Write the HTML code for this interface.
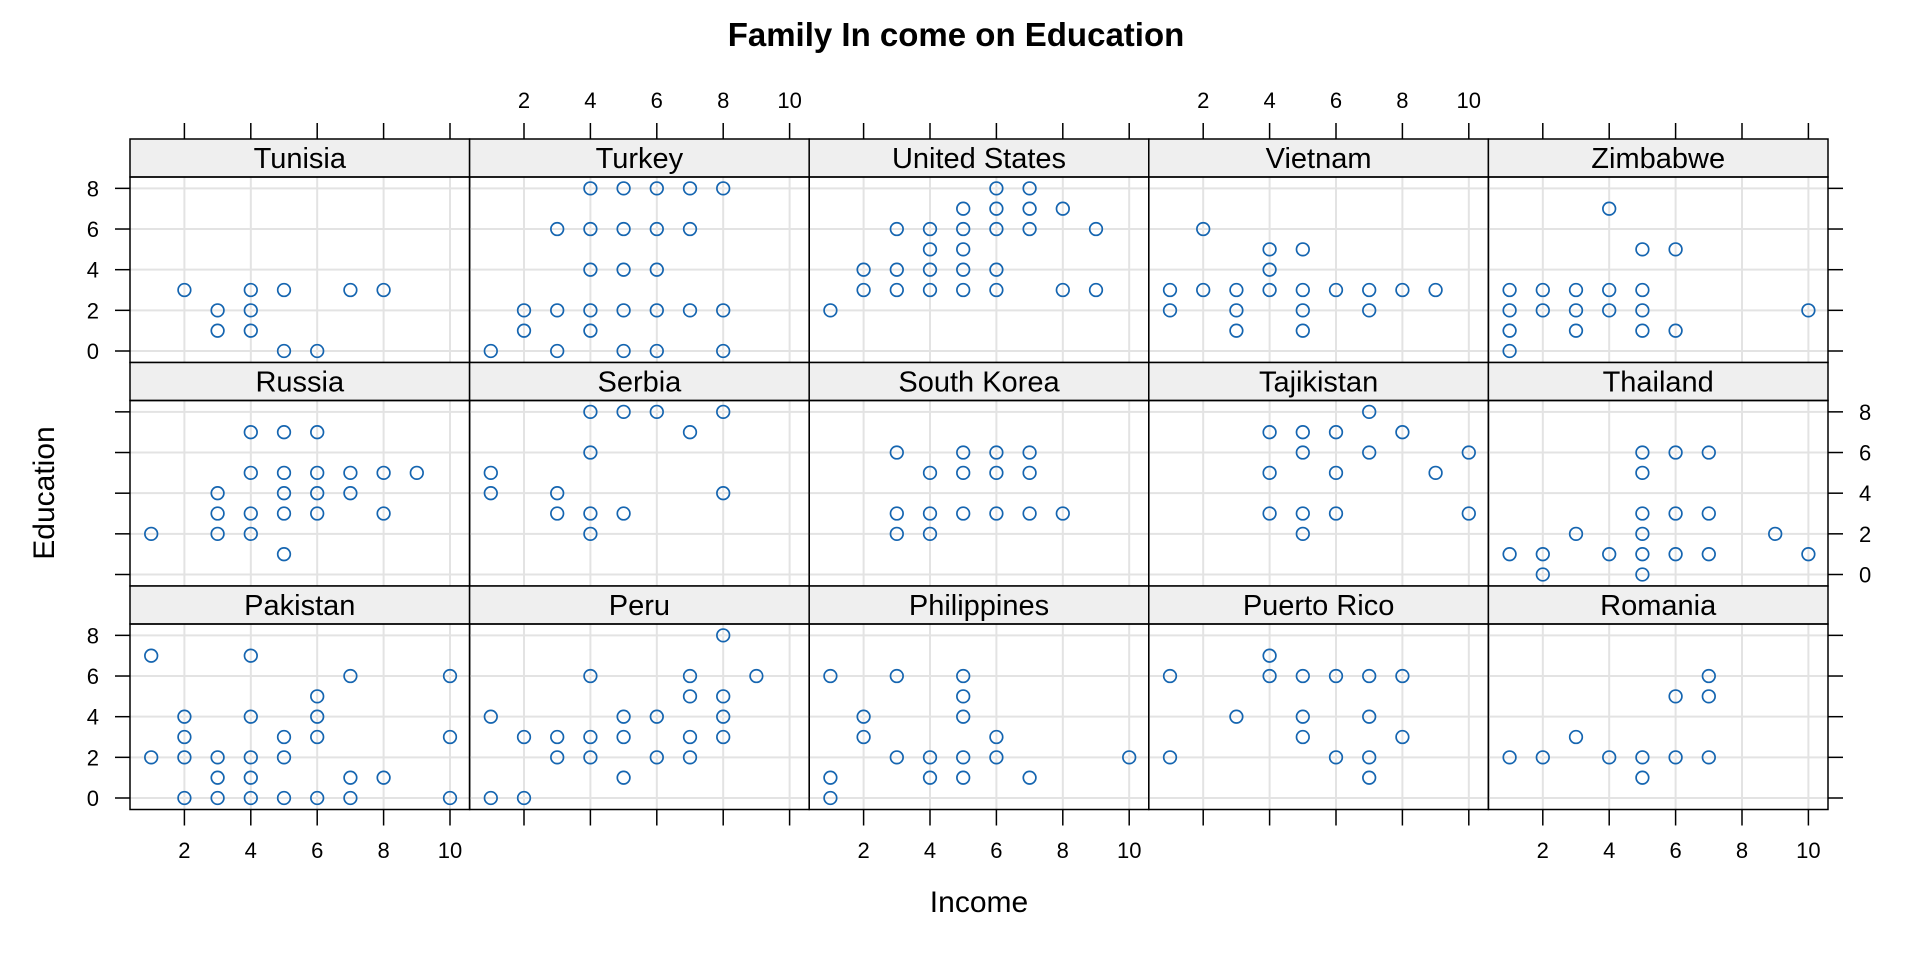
<!DOCTYPE html>
<html><head><meta charset="utf-8"><style>
html,body{margin:0;padding:0;background:#fff;}
svg{display:block;font-family:"Liberation Sans",Arial,sans-serif;}
</style></head><body>
<svg id="s" xmlns="http://www.w3.org/2000/svg" width="1920" height="960" viewBox="0 0 1920 960">
<rect width="1920" height="960" fill="#fff"/>
<text x="956" y="46" text-anchor="middle" font-size="33" font-weight="bold">Family In come on Education</text>
<text x="979" y="912" text-anchor="middle" font-size="30">Income</text>
<text transform="translate(54,493) rotate(-90)" text-anchor="middle" font-size="30">Education</text>
</svg>
<script>
var panels=[
["Tunisia",[[2,3],[3,2],[3,1],[4,3],[4,2],[4,1],[5,3],[5,0],[6,0],[7,3],[8,3]]],
["Turkey",[[1,0],[2,2],[2,1],[3,6],[3,2],[3,0],[4,8],[4,6],[4,4],[4,2],[4,1],[5,8],[5,6],[5,4],[5,2],[5,0],[6,8],[6,6],[6,4],[6,2],[6,0],[7,8],[7,6],[7,2],[8,8],[8,2],[8,0]]],
["United States",[[1,2],[2,4],[2,3],[3,6],[3,4],[3,3],[4,6],[4,5],[4,4],[4,3],[5,7],[5,6],[5,5],[5,4],[5,3],[6,8],[6,7],[6,6],[6,4],[6,3],[7,8],[7,7],[7,6],[8,7],[8,3],[9,6],[9,3]]],
["Vietnam",[[1,3],[1,2],[2,6],[2,3],[3,3],[3,2],[3,1],[4,5],[4,4],[4,3],[5,5],[5,3],[5,2],[5,1],[6,3],[7,3],[7,2],[8,3],[9,3]]],
["Zimbabwe",[[1,3],[1,2],[1,1],[1,0],[2,3],[2,2],[3,3],[3,2],[3,1],[4,7],[4,3],[4,2],[5,5],[5,3],[5,2],[5,1],[6,5],[6,1],[10,2]]],
["Russia",[[1,2],[3,4],[3,3],[3,2],[4,7],[4,5],[4,3],[4,2],[5,7],[5,5],[5,4],[5,3],[5,1],[6,7],[6,5],[6,4],[6,3],[7,5],[7,4],[8,5],[8,3],[9,5]]],
["Serbia",[[1,5],[1,4],[3,4],[3,3],[4,8],[4,6],[4,3],[4,2],[5,8],[5,3],[6,8],[7,7],[8,8],[8,4]]],
["South Korea",[[3,6],[3,3],[3,2],[4,5],[4,3],[4,2],[5,6],[5,5],[5,3],[6,6],[6,5],[6,3],[7,6],[7,5],[7,3],[8,3]]],
["Tajikistan",[[4,7],[4,5],[4,3],[5,7],[5,6],[5,3],[5,2],[6,7],[6,5],[6,3],[7,8],[7,6],[8,7],[9,5],[10,6],[10,3]]],
["Thailand",[[1,1],[2,1],[2,0],[3,2],[4,1],[5,6],[5,5],[5,3],[5,2],[5,1],[5,0],[6,6],[6,3],[6,1],[7,6],[7,3],[7,1],[9,2],[10,1]]],
["Pakistan",[[1,7],[1,2],[2,4],[2,3],[2,2],[2,0],[3,2],[3,1],[3,0],[4,7],[4,4],[4,2],[4,1],[4,0],[5,3],[5,2],[5,0],[6,5],[6,4],[6,3],[6,0],[7,6],[7,1],[7,0],[8,1],[10,6],[10,3],[10,0]]],
["Peru",[[1,4],[1,0],[2,3],[2,0],[3,3],[3,2],[4,6],[4,3],[4,2],[5,4],[5,3],[5,1],[6,4],[6,2],[7,6],[7,5],[7,3],[7,2],[8,8],[8,5],[8,4],[8,3],[9,6]]],
["Philippines",[[1,6],[1,1],[1,0],[2,4],[2,3],[3,6],[3,2],[4,2],[4,1],[5,6],[5,5],[5,4],[5,2],[5,1],[6,3],[6,2],[7,1],[10,2]]],
["Puerto Rico",[[1,6],[1,2],[3,4],[4,7],[4,6],[5,6],[5,4],[5,3],[6,6],[6,2],[7,6],[7,4],[7,2],[7,1],[8,6],[8,3]]],
["Romania",[[1,2],[2,2],[3,3],[4,2],[5,2],[5,1],[6,5],[6,2],[7,6],[7,5],[7,2]]]
];
var s=document.getElementById('s'),NS='http://www.w3.org/2000/svg';
function el(t,a,txt){var e=document.createElementNS(NS,t);for(var k in a)e.setAttribute(k,a[k]);if(txt!=null)e.textContent=txt;s.appendChild(e);return e;}
var PW=339.6,RH=223.5,SH=38;
for(var i=0;i<15;i++){
 var r=Math.floor(i/5),c=i%5;
 var L=130+PW*c,R=L+PW,ST=139+RH*r,PT=ST+SH,PB=ST+RH,Z=351+RH*r;
 function X(v){return L-12+33.2*v;} function Y(v){return Z-20.33*v;}
 // grid
 for(var g=2;g<=10;g+=2) el('line',{x1:X(g),x2:X(g),y1:PT,y2:PB,stroke:'#e3e3e3','stroke-width':2});
 for(var g=0;g<=8;g+=2) el('line',{x1:L,x2:R,y1:Y(g),y2:Y(g),stroke:'#e3e3e3','stroke-width':2});
 // points
 panels[i][1].forEach(function(p){el('circle',{cx:X(p[0]),cy:Y(p[1]),r:6.3,fill:'none',stroke:'#1565b0','stroke-width':1.7});});
 // strip
 el('rect',{x:L,y:ST,width:PW,height:SH,fill:'#efefef',stroke:'#000','stroke-width':1.5});
 el('text',{x:L+PW/2,y:ST+29,'text-anchor':'middle','font-size':29},panels[i][0]);
 el('rect',{x:L,y:PT,width:PW,height:PB-PT,fill:'none',stroke:'#000','stroke-width':1.5});
 // top axis
 if(r==0){for(var g=2;g<=10;g+=2){el('line',{x1:X(g),x2:X(g),y1:123,y2:139,stroke:'#000','stroke-width':1.5});
   if(c==1||c==3) el('text',{x:X(g),y:108,'text-anchor':'middle','font-size':22},g);}}
 if(r==2){for(var g=2;g<=10;g+=2){el('line',{x1:X(g),x2:X(g),y1:PB,y2:PB+16,stroke:'#000','stroke-width':1.5});
   if(c%2==0) el('text',{x:X(g),y:858,'text-anchor':'middle','font-size':22},g);}}
 if(c==0){for(var g=0;g<=8;g+=2){el('line',{x1:115,x2:130,y1:Y(g),y2:Y(g),stroke:'#000','stroke-width':1.5});
   if(r!=1) el('text',{x:99,y:Y(g)+8,'text-anchor':'end','font-size':22},g);}}
 if(c==4){for(var g=0;g<=8;g+=2){el('line',{x1:R,x2:R+15,y1:Y(g),y2:Y(g),stroke:'#000','stroke-width':1.5});
   if(r==1) el('text',{x:1859,y:Y(g)+8,'text-anchor':'start','font-size':22},g);}}
}
</script>
</body></html>
